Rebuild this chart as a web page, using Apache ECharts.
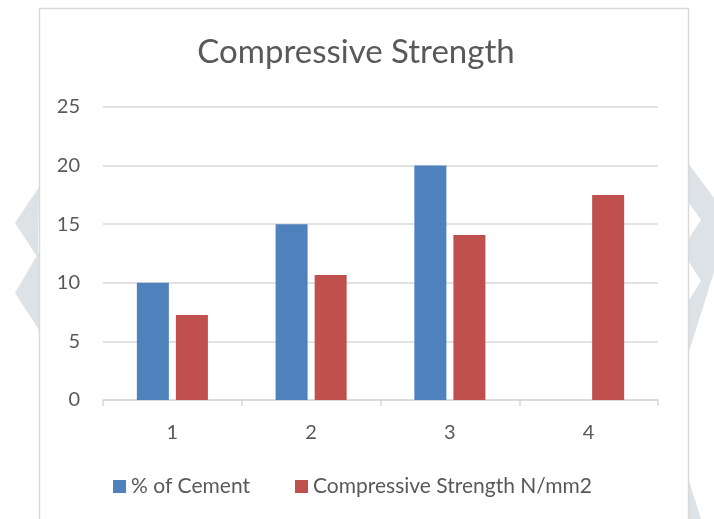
<!DOCTYPE html>
<html>
<head>
<meta charset="utf-8">
<script src="https://cdn.jsdelivr.net/npm/echarts@6/dist/echarts.min.js"></script>
<style>
  html, body { margin: 0; padding: 0; background: #ffffff; }
  #chart { width: 714px; height: 519px; }
</style>
</head>
<body>
<div id="chart"></div>
<script>
// Mix number on the category axis
const categories = ['1', '2', '3', '4'];
// % of cement per mix (mix 4 has no value)
const cementPercent = [10, 15, 20, null];
// Compressive strength, N/mm2
const compressiveStrength = [7.25, 10.67, 14.08, 17.5];
const yTicks = { min: 0, max: 25, interval: 5 };

const textColor = '#595959';
const gridColor = '#d9d9d9';
const fontFamily = 'Lato, "Open Sans", sans-serif';

const chart = echarts.init(document.getElementById('chart'), null, { renderer: 'canvas' });

const watermark = '#dde2e6';

chart.setOption({
  backgroundColor: '#ffffff',
  animation: false,
  title: {
    text: 'Compressive Strength',
    left: 351,
    textAlign: 'center',
    top: 31,
    textStyle: { color: textColor, fontFamily, fontSize: 33, fontWeight: 'normal' }
  },
  graphic: [
    // page decoration on the left margin
    { type: 'polygon', z: -10, shape: { points: [[39, 187], [15, 223], [38, 258]] }, style: { fill: watermark } },
    { type: 'polygon', z: -10, shape: { points: [[39, 252], [15, 293], [39, 330]] }, style: { fill: watermark } },
    // page decoration on the right margin
    { type: 'polygon', z: -10, shape: { points: [[688, 163], [714, 198], [714, 272], [688, 355]] }, style: { fill: watermark } },
    { type: 'polygon', z: -9, shape: { points: [[689, 203], [701, 220], [689, 238]] }, style: { fill: '#ffffff' } },
    { type: 'polygon', z: -9, shape: { points: [[689, 262], [701, 281], [689, 300]] }, style: { fill: '#ffffff' } },
    { type: 'polygon', z: -10, shape: { points: [[688, 478], [701, 519], [688, 519]] }, style: { fill: watermark } },
    // chart frame
    { type: 'rect', z: -5, shape: { x: 39.5, y: 8.5, width: 649, height: 530 }, style: { fill: '#ffffff', stroke: gridColor, lineWidth: 1.5 } }
  ],
  legend: {
    left: 108,
    top: 471,
    itemWidth: 13,
    itemHeight: 13,
    itemGap: 45,
    icon: 'rect',
    textStyle: { color: textColor, fontFamily, fontSize: 21 },
    data: ['% of Cement', 'Compressive Strength N/mm2']
  },
  grid: { left: 103, right: 56, top: 107, bottom: 119, containLabel: false },
  xAxis: {
    type: 'category',
    data: categories,
    axisLine: { lineStyle: { color: gridColor, width: 1.5 } },
    axisTick: { show: true, length: 6, lineStyle: { color: gridColor, width: 1.5 } },
    axisLabel: { color: textColor, fontFamily, fontSize: 20, margin: 23 }
  },
  yAxis: {
    type: 'value',
    min: yTicks.min,
    max: yTicks.max,
    interval: yTicks.interval,
    axisLine: { show: false },
    axisTick: { show: false },
    axisLabel: { color: textColor, fontFamily, fontSize: 20, margin: 23 },
    splitLine: { lineStyle: { color: gridColor, width: 1.5 } }
  },
  series: [
    {
      name: '% of Cement',
      type: 'bar',
      data: cementPercent,
      barWidth: 32,
      barGap: '22%',
      itemStyle: { color: '#4f81bd' }
    },
    {
      name: 'Compressive Strength N/mm2',
      type: 'bar',
      data: compressiveStrength,
      barWidth: 32,
      barGap: '22%',
      itemStyle: { color: '#c0504d' }
    }
  ]
});
</script>
</body>
</html>
